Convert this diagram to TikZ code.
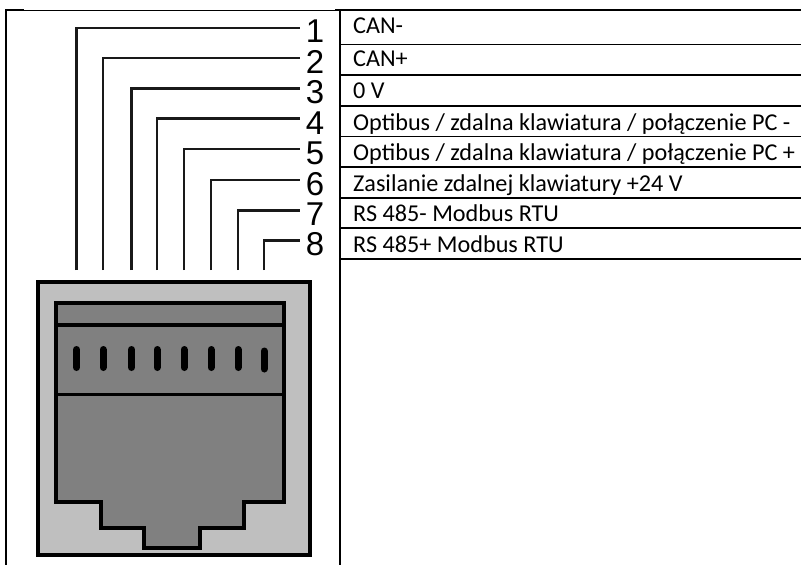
\documentclass[tikz,border=0pt]{standalone}
\usepackage{fontspec}
\setmainfont{Carlito}
\newfontfamily\pinfont{Liberation Sans}
\begin{document}
\begin{tikzpicture}[x=1pt,y=-1pt,
    pinnum/.style={inner sep=0pt,font=\pinfont\fontsize{33}{35}\selectfont},
    rowtext/.style={inner sep=0pt,anchor=base west,font=\fontsize{24.2}{26}\selectfont},
    wire/.style={line width=2.1pt,black!90},
    rule/.style={line width=1.8pt}]
  \useasboundingbox (0,0) rectangle (801,565);
  % table frame
  \draw[line width=2.2pt] (6,565) -- (6,10) -- (24,10);
  \draw[line width=0.8pt] (24,10) -- (335,10);
  \draw[line width=2.2pt] (335,10) -- (801,10);
  \draw[line width=2.2pt] (340,10) -- (340,565);
  \foreach \y in {44.5,75,106,136.5,167,197.7,228,258.7}{
    \draw[rule] (340,\y) -- (801,\y);
  }
  % table rows
  \node[rowtext](r1) at (353,33.5){CAN-};
  \node[rowtext](r2) at (353,66.7){CAN+};
  \node[rowtext](r3) at (353,98.7){0 V};
  \node[rowtext](r4) at (353,130){Optibus / zdalna klawiatura / połączenie PC -};
  \node[rowtext](r5) at (353,160.7){Optibus / zdalna klawiatura / połączenie PC +};
  \node[rowtext](r6) at (353,191){Zasilanie zdalnej klawiatury +24 V};
  \node[rowtext](r7) at (353,221.5){RS 485- Modbus RTU};
  \node[rowtext](r8) at (353,252){RS 485+ Modbus RTU};
  % socket body
  \draw[line width=4pt,fill=black!25] (38,282) rectangle (310,555);
  \draw[line width=4pt,fill=black!50] (56,303) -- (284,303) -- (284,502) -- (244,502)
    -- (244,527.7) -- (200,527.7) -- (200,547.7) -- (143.7,547.7) -- (143.7,527.7)
    -- (101,527.7) -- (101,502) -- (56,502) -- cycle;
  \draw[line width=4pt] (56,325) -- (284,325);
  \draw[line width=3pt] (56,394) -- (284,394);
  % pin numbers, wires and contacts
  \foreach \n/\wx/\wy/\ny/\py in {1/76.5/28/31/358.5,2/103/58/62/358.5,
      3/131.5/88.5/92.5/358.5,4/157/118.5/123/358.5,5/184/149/153.5/358.5,
      6/211/180/184.5/358.5,7/238/210.5/214.5/358.5,8/264/240.5/244.5/360}{
    \node[pinnum](n\n) at (315,\ny){\n};
    \coordinate (e\n) at (300,\wy);
    \coordinate (w\n) at (\wx,270);
    \draw[wire] (w\n) |- (e\n);
    \draw[line width=7pt,line cap=round] (\wx,\py-9) -- (\wx,\py+9);
  }
\end{tikzpicture}
\end{document}
